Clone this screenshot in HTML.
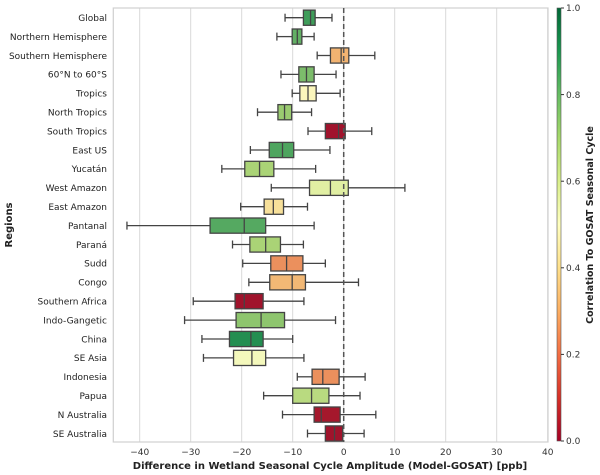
<!DOCTYPE html>
<html><head><meta charset="utf-8"><style>
body{margin:0;background:#fff;}
svg{display:block;font-family:"DejaVu Sans","Liberation Sans",sans-serif;}
</style></head><body>
<svg id="chart" width="600" height="475" xmlns="http://www.w3.org/2000/svg">
<defs>
<linearGradient id="cg" x1="0" y1="1" x2="0" y2="0">
<stop offset="0" stop-color="#a50026"/><stop offset="0.1" stop-color="#d73027"/><stop offset="0.2" stop-color="#f46d43"/><stop offset="0.3" stop-color="#fdae61"/><stop offset="0.4" stop-color="#fee08b"/><stop offset="0.5" stop-color="#ffffbf"/><stop offset="0.6" stop-color="#d9ef8b"/><stop offset="0.7" stop-color="#a6d96a"/><stop offset="0.8" stop-color="#66bd63"/><stop offset="0.9" stop-color="#1a9850"/><stop offset="1" stop-color="#006837"/>
</linearGradient>
</defs>
</svg>
<script>
const regions=["Global","Northern Hemisphere","Southern Hemisphere","60°N to 60°S","Tropics","North Tropics","South Tropics","East US","Yucatán","West Amazon","East Amazon","Pantanal","Paraná","Sudd","Congo","Southern Africa","Indo-Gangetic","China","SE Asia","Indonesia","Papua","N Australia","SE Australia"];
const whiskLo=[-11.5,-13.1,-5.2,-12.3,-10.1,-16.9,-7.0,-18.3,-23.9,-14.2,-20.2,-42.5,-21.8,-19.8,-18.6,-29.5,-31.2,-27.8,-27.5,-9.1,-15.7,-12.0,-7.1];
const q1=[-7.9,-10.1,-2.6,-8.8,-8.6,-12.9,-3.6,-14.6,-19.4,-6.7,-15.6,-26.2,-18.4,-14.3,-14.5,-21.3,-21.1,-22.4,-21.6,-6.2,-10.0,-5.8,-3.6];
const med=[-6.5,-9.1,-0.5,-7.3,-7.0,-11.6,-1.0,-12.0,-16.5,-2.6,-13.8,-19.5,-15.3,-11.2,-10.1,-19.5,-16.2,-18.2,-18.0,-4.1,-6.3,-4.4,-1.8];
const q3=[-5.6,-8.2,1.0,-5.8,-5.4,-10.2,0.3,-9.8,-13.7,0.9,-11.8,-15.3,-12.4,-8.0,-7.5,-15.8,-11.6,-15.8,-15.3,-0.9,-2.9,-0.7,-0.2];
const whiskHi=[-2.3,-5.8,6.1,-1.5,-0.7,-6.3,5.5,-2.7,-5.5,12.0,-7.1,-5.8,-7.9,-3.6,2.9,-7.8,-1.6,-10.0,-7.8,4.2,3.2,6.3,4.0];
const corr=[0.86,0.81,0.31,0.77,0.48,0.72,0.02,0.84,0.69,0.57,0.41,0.83,0.69,0.25,0.32,0.02,0.74,0.9,0.52,0.25,0.66,0.03,0.02];
const xTicks=[-40,-30,-20,-10,0,10,20,30,40];
const cTicks=[0,0.2,0.4,0.6,0.8,1.0];

const NS="http://www.w3.org/2000/svg";
const svg=document.getElementById('chart');
const L=113.3,R=548,T=8,B=442;
const x=v=>343.7+v*5.1;
const y=i=>17.7+i*18.9;
const cy=v=>441-v*433;
function mk(t,a,p){const e=document.createElementNS(NS,t);for(const k in a)e.setAttribute(k,a[k]);(p||svg).appendChild(e);return e;}
const stops=["#a50026","#d73027","#f46d43","#fdae61","#fee08b","#ffffbf","#d9ef8b","#a6d96a","#66bd63","#1a9850","#006837"];
function cmap(v){const p=Math.max(0,Math.min(1,v))*10;const i=Math.min(9,Math.floor(p));const f=p-i;
const a=stops[i],b=stops[i+1];const c=[0,1,2].map(k=>{const u=parseInt(a.substr(1+2*k,2),16),w=parseInt(b.substr(1+2*k,2),16);return u+(w-u)*f;});
const m=(c[0]+c[1]+c[2])/3;const d=c.map(z=>Math.round(z*0.85+m*0.15));return `rgb(${d[0]},${d[1]},${d[2]})`;}

xTicks.forEach(t=>{const g=mk('line',{x1:x(t),x2:x(t),y1:T,y2:B,stroke:'#d9d9d9','stroke-width':1});

const tx=mk('text',{x:x(t),y:455,'font-size':9,fill:'#333','text-anchor':'middle'});tx.textContent=(t<0?'\u2212'+(-t):t);
});
const fr=mk('rect',{x:L,y:T,width:R-L,height:B-T,fill:'none',stroke:'#d0d0d0','stroke-width':1.2});


regions.forEach((r,i)=>{
const g=mk('g',{});


const yc=y(i),h=7.6,st='#444';
mk('line',{x1:x(whiskLo[i]),x2:x(q1[i]),y1:yc,y2:yc,stroke:st,'stroke-width':1.3},g);
mk('line',{x1:x(q3[i]),x2:x(whiskHi[i]),y1:yc,y2:yc,stroke:st,'stroke-width':1.3},g);
mk('line',{x1:x(whiskLo[i]),x2:x(whiskLo[i]),y1:yc-4,y2:yc+4,stroke:st,'stroke-width':1.3},g);
mk('line',{x1:x(whiskHi[i]),x2:x(whiskHi[i]),y1:yc-4,y2:yc+4,stroke:st,'stroke-width':1.3},g);
mk('rect',{x:x(q1[i]),y:yc-h,width:x(q3[i])-x(q1[i]),height:2*h,fill:cmap(corr[i]),stroke:st,'stroke-width':1.3},g);
mk('line',{x1:x(med[i]),x2:x(med[i]),y1:yc-h,y2:yc+h,stroke:st,'stroke-width':1.3},g);
const t=mk('text',{x:107,y:yc+3.3,'font-size':9,fill:'#222','text-anchor':'end'});t.textContent=r;

});
const zl=mk('line',{x1:x(0),x2:x(0),y1:T,y2:B,stroke:'#555','stroke-width':1.5,'stroke-dasharray':'5,3'});


const xl=mk('text',{x:330,y:469,'font-size':10,'font-weight':'bold',fill:'#222','text-anchor':'middle'});
xl.textContent='Difference in Wetland Seasonal Cycle Amplitude (Model-GOSAT) [ppb]';

const yl=mk('text',{x:0,y:0,'font-size':10,'font-weight':'bold',fill:'#222','text-anchor':'middle',transform:'translate(12,225) rotate(-90)'});
yl.textContent='Regions';

const cb=mk('rect',{x:557,y:8,width:4,height:433,fill:'url(#cg)',stroke:'#555','stroke-width':0.6});

cTicks.forEach(v=>{mk('line',{x1:561,x2:564,y1:cy(v),y2:cy(v),stroke:'#333','stroke-width':1});
const t=mk('text',{x:566,y:cy(v)+3.2,'font-size':9,fill:'#333'});t.textContent=v.toFixed(1);
});
const cl=mk('text',{x:0,y:0,'font-size':9.5,'font-weight':'bold',fill:'#222','text-anchor':'middle',transform:'translate(593,225) rotate(-90)'});
cl.textContent='Correlation To GOSAT Seasonal Cycle';
</script>
</body></html>
